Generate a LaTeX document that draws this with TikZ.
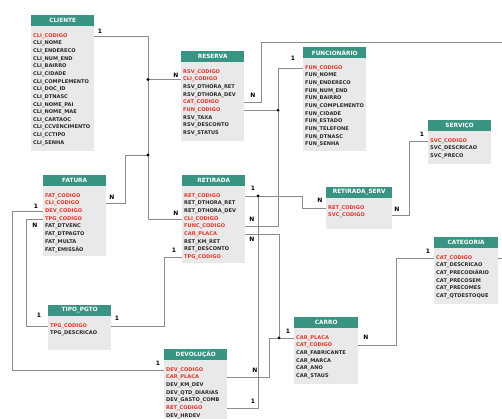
\documentclass[tikz,border=0pt]{standalone}
\usepackage{fontspec}
\newfontfamily\erfont{DejaVu Sans}
\usetikzlibrary{calc}
\definecolor{cabverde}{HTML}{3A9484}
\definecolor{corpocinza}{HTML}{E9E9E9}
\definecolor{chave}{HTML}{E2352B}
\definecolor{campo}{HTML}{2A2A2A}
\definecolor{linha}{HTML}{8C8C8C}
\tikzset{
	cabeca/.style={fill=cabverde, text=white, font=\erfont\bfseries\fontsize{5.8}{6}\selectfont, minimum height=10.5, inner sep=0},
	corpo/.style={fill=corpocinza, inner sep=0},
	atributo/.style={font=\erfont\bfseries\fontsize{5.1}{5}\selectfont, inner sep=0, anchor=west},
	rel/.style={draw=linha, line width=0.6pt},
	card/.style={font=\erfont\bfseries\fontsize{6}{6}\selectfont, inner sep=0},
	juncao/.style={fill=black}
}
% tabela: nome, x, y do topo, largura, y do fundo, titulo, campos
\newcommand{\tabela}[7]{%
	\node[cabeca, minimum width=#4, anchor=north west] (#1-h) at (#2,#3) {#6};
	\node[corpo, minimum width=#4, minimum height={#5-#3-10.5}, anchor=north west] (#1) at (#1-h.south west) {};
	\foreach [count=\i] \c/\t in {#7}
		\node[atributo, text=\c] (#1-\i) at ($(#1-h.south west)+(2,{10+(\i-1)*7.65})$) {\t};
}

\begin{document}
\begin{tikzpicture}[x=1pt, y=-1pt]
	\useasboundingbox (0,0) rectangle (502,419);
	\clip (0,0) rectangle (502,419);

	% entidades
	\tabela{cliente}{31}{15}{63}{150}{CLIENTE}{chave/CLI\_CODIGO, campo/CLI\_NOME, campo/CLI\_ENDERECO, campo/CLI\_NUM\_END, campo/CLI\_BAIRRO, campo/CLI\_CIDADE, campo/CLI\_COMPLEMENTO, campo/CLI\_DOC\_ID, campo/CLI\_DTNASC, campo/CLI\_NOME\_PAI, campo/CLI\_NOME\_MAE, campo/CLI\_CARTAOC, campo/CLI\_CCVENCIMENTO, campo/CLI\_CCTIPO, campo/CLI\_SENHA}
	\tabela{reserva}{181}{51}{63}{140}{RESERVA}{chave/RSV\_CODIGO, chave/CLI\_CODIGO, campo/RSV\_DTHORA\_RET, campo/RSV\_DTHORA\_DEV, chave/CAT\_CODIGO, chave/FUN\_CODIGO, campo/RSV\_TAXA, campo/RSV\_DESCONTO, campo/RSV\_STATUS}
	\tabela{funcionario}{303}{47}{63}{150}{FUNCIONÁRIO}{chave/FUN\_CODIGO, campo/FUN\_NOME, campo/FUN\_ENDERECO, campo/FUN\_NUM\_END, campo/FUN\_BAIRRO, campo/FUN\_COMPLEMENTO, campo/FUN\_CIDADE, campo/FUN\_ESTADO, campo/FUN\_TELEFONE, campo/FUN\_DTNASC, campo/FUN\_SENHA}
	\tabela{servico}{428}{120}{63}{163}{SERVIÇO}{chave/SVC\_CODIGO, campo/SVC\_DESCRICAO, campo/SVC\_PRECO}
	\tabela{retserv}{326}{187}{66}{228}{RETIRADA\_SERV}{chave/RET\_CODIGO, chave/SVC\_CODIGO}
	\tabela{fatura}{43}{175}{63}{255}{FATURA}{chave/FAT\_CODIGO, chave/CLI\_CODIGO, chave/DEV\_CODIGO, chave/TPG\_CODIGO, campo/FAT\_DTVENC, campo/FAT\_DTPAGTO, campo/FAT\_MULTA, campo/FAT\_EMISSÃO}
	\tabela{retirada}{182}{175}{63}{262}{RETIRADA}{chave/RET\_CODIGO, campo/RET\_DTHORA\_RET, campo/RET\_DTHORA\_DEV, chave/CLI\_CODIGO, chave/FUNC\_CODIGO, chave/CAR\_PLACA, campo/RET\_KM\_RET, campo/RET\_DESCONTO, chave/TPG\_CODIGO}
	\tabela{categoria}{434}{237}{64}{303}{CATEGORIA}{chave/CAT\_CODIGO, campo/CAT\_DESCRICAO, campo/CAT\_PRECODIÁRIO, campo/CAT\_PRECOSEM, campo/CAT\_PRECOMES, campo/CAT\_QTDESTOQUE}
	\tabela{carro}{294}{317}{64}{383}{CARRO}{chave/CAR\_PLACA, chave/CAT\_CODIGO, campo/CAR\_FABRICANTE, campo/CAR\_MARCA, campo/CAR\_ANO, campo/CAR\_STAUS}
	\tabela{tipopgto}{48}{305}{63}{349}{TIPO\_PGTO}{chave/TPG\_CODIGO, campo/TPG\_DESCRICAO}
	\tabela{devolucao}{164}{349}{63}{425}{DEVOLUÇÃO}{chave/DEV\_CODIGO, chave/CAR\_PLACA, campo/DEV\_KM\_DEV, campo/DEV\_QTD\_DIARIAS, campo/DEV\_GASTO\_COMB, chave/RET\_CODIGO, campo/DEV\_HRDEV}

	% colunas dos conectores
	\coordinate (xcli) at (148,0);
	\coordinate (xfat) at (125,0);
	\coordinate (xfun) at (278,0);
	\coordinate (xret) at (258,0);
	\coordinate (xrs) at (302,0);
	\coordinate (xcar) at (279,0);
	\coordinate (xdev) at (269,0);
	\coordinate (xcat) at (396,0);
	\coordinate (xsvc) at (409,0);
	\coordinate (xesq) at (12,0);
	\coordinate (xtpg) at (26,0);
	\coordinate (xtpr) at (164,0);
	\coordinate (topo) at (261,42);
	\coordinate (fora) at (512,42);

	\coordinate (j1) at (xcli |- reserva-2);
	\coordinate (j2) at (148,155);
	\coordinate (j3) at (xfun |- reserva-6);
	\coordinate (j4) at (xret |- retirada-1);
	\coordinate (j5) at (xcar |- carro-1);

	% relacionamentos
	\draw[rel] (cliente.east |- cliente-1) -| (xcli |- retirada-4) -- (retirada.west |- retirada-4);
	\draw[rel] (j1) -- (reserva.west |- reserva-2);
	\draw[rel] (j2) -| (xfat |- fatura-2) -- (fatura.east |- fatura-2);
	\draw[rel] (reserva.east |- reserva-5) -| (topo) -- (fora) |- (categoria.east |- categoria-1);
	\draw[rel] (funcionario.west |- funcionario-1) -| (xfun |- retirada-5) -- (retirada.east |- retirada-5);
	\draw[rel] (reserva.east |- reserva-6) -- (j3);
	\draw[rel] (retirada.east |- retirada-1) -| (xrs |- retserv-1) -- (retserv.west |- retserv-1);
	\draw[rel] (j4) |- (devolucao.east |- devolucao-6);
	\draw[rel] (retirada.east |- retirada-6) -| (j5);
	\draw[rel] (devolucao.east |- devolucao-2) -| (xdev |- carro-1) -- (carro.west |- carro-1);
	\draw[rel] (categoria.west |- categoria-1) -| (xcat |- carro-2) -- (carro.east |- carro-2);
	\draw[rel] (servico.west |- servico-1) -| (xsvc |- retserv-2) -- (retserv.east |- retserv-2);
	\draw[rel] (fatura.west |- fatura-3) -| (xesq |- devolucao-1) -- (devolucao.west |- devolucao-1);
	\draw[rel] (fatura.west |- fatura-4) -| (xtpg |- tipopgto-1) -- (tipopgto.west |- tipopgto-1);
	\draw[rel] (retirada.west |- retirada-9) -| (xtpr |- tipopgto-1) -- (tipopgto.east |- tipopgto-1);

	\foreach \j in {j1, j2, j3, j4, j5}
		\fill[juncao] (\j) circle (1.6pt);

	% cardinalidades
	\node[card] (k1) at (100,31) {1};
	\node[card] (k2) at (176,75) {N};
	\node[card] (k3) at (112,197) {N};
	\node[card] (k4) at (176,213) {N};
	\node[card] (k5) at (253,95) {N};
	\node[card] (k6) at (293,58) {1};
	\node[card] (k7) at (252,219) {N};
	\node[card] (k8) at (253,188) {1};
	\node[card] (k9) at (320,200) {N};
	\node[card] (k10) at (253,401) {1};
	\node[card] (k11) at (252,239) {N};
	\node[card] (k12) at (255,370) {N};
	\node[card] (k13) at (288,331) {1};
	\node[card] (k14) at (428,251) {1};
	\node[card] (k15) at (366,337) {N};
	\node[card] (k16) at (422,134) {1};
	\node[card] (k17) at (397,209) {N};
	\node[card] (k18) at (36,206) {1};
	\node[card] (k19) at (158,363) {1};
	\node[card] (k20) at (35,225) {N};
	\node[card] (k21) at (39,315) {1};
	\node[card] (k22) at (174,250) {1};
	\node[card] (k23) at (117,318) {1};
\end{tikzpicture}
\end{document}
